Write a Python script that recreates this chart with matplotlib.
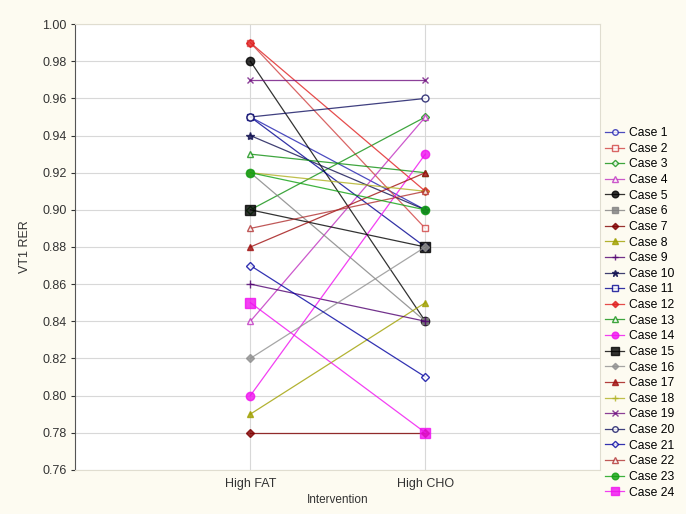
import matplotlib
matplotlib.use("Agg")
import matplotlib.pyplot as plt

plt.rcParams['font.family'] = ['Liberation Sans', 'DejaVu Sans']

categories = ["High FAT", "High CHO"]
cases = [f"Case {i}" for i in range(1, 25)]
high_fat = [0.95, 0.99, 0.90, 0.84, 0.98, 0.92, 0.78, 0.79, 0.86, 0.94, 0.95, 0.99,
            0.93, 0.80, 0.90, 0.82, 0.88, 0.92, 0.97, 0.95, 0.87, 0.89, 0.92, 0.85]
high_cho = [0.90, 0.89, 0.95, 0.95, 0.84, 0.84, 0.78, 0.85, 0.84, 0.90, 0.88, 0.91,
            0.92, 0.93, 0.88, 0.88, 0.92, 0.91, 0.97, 0.96, 0.81, 0.91, 0.90, 0.78]
y_ticks = [0.76, 0.78, 0.80, 0.82, 0.84, 0.86, 0.88, 0.90, 0.92, 0.94, 0.96, 0.98, 1.00]

styles = [
    ("#2020b0", "o", "none"), ("#d04040", "s", "none"), ("#109010", "D", "none"),
    ("#c030c0", "^", "none"), ("#000000", "o", "full"), ("#808080", "s", "full"),
    ("#800000", "D", "full"), ("#a0a000", "^", "full"), ("#500070", "+", "full"),
    ("#101050", "*", "full"), ("#000090", "s", "none"), ("#e02020", "D", "full"),
    ("#109010", "^", "none"), ("#f010f0", "o", "full"), ("#000000", "s", "full"),
    ("#909090", "D", "full"), ("#a01010", "^", "full"), ("#b0b020", "+", "full"),
    ("#701080", "x", "full"), ("#101060", "o", "none"), ("#0000a0", "D", "none"),
    ("#b03030", "^", "none"), ("#10a010", "o", "full"), ("#f010f0", "s", "full"),
]
sizes = [5, 5, 4, 5, 6, 5, 4, 5, 6, 6, 5, 4, 5, 6, 7, 4, 5, 6, 5, 5, 4, 5, 6, 7]

fig = plt.figure(figsize=(6.86, 5.14), dpi=100, facecolor="#fdfbf1")
ax = fig.add_axes([0.110, 0.086, 0.765, 0.867])
ax.set_facecolor("white")

xs = [0, 1]
handles = []
for i, name in enumerate(cases):
    c, m, fill = styles[i]
    kw = dict(color=c, lw=0.9, marker=m, markersize=sizes[i], label=name)
    if fill == "none":
        kw.update(markerfacecolor="white", markeredgecolor=c, markeredgewidth=1.0)
    else:
        kw.update(markerfacecolor=c, markeredgecolor=c)
    h, = ax.plot(xs, [high_fat[i], high_cho[i]], alpha=0.8, **kw)
    handles.append(h)

ax.set_xlim(-1, 2)
ax.set_ylim(0.76, 1.00)
ax.set_xticks(xs)
ax.set_xticklabels(categories)
ax.set_yticks(y_ticks)
ax.set_yticklabels([f"{v:.2f}" for v in y_ticks])
ax.grid(True, color="#d8d8d8", lw=0.8)
ax.set_axisbelow(True)
ax.tick_params(labelsize=9, colors="#333333", length=3, direction="out")
ax.tick_params(axis="x", length=0, pad=6)
for s in ["top", "right", "bottom"]:
    ax.spines[s].set_color("#e0ddd0")
ax.spines["left"].set_color("#555555")
ax.set_xlabel("Intervention", fontsize=8.5, color="#333333", labelpad=3)
ax.set_ylabel("VT1 RER", fontsize=9, color="#333333", labelpad=8)

fig.legend(handles=handles, loc="upper left", bbox_to_anchor=(0.875, 0.762),
           frameon=False, fontsize=8.7, handlelength=1.6, handletextpad=0.4,
           labelspacing=0.3, borderaxespad=0, markerscale=0.8)

fig.savefig("out.png", dpi=100, facecolor=fig.get_facecolor())
